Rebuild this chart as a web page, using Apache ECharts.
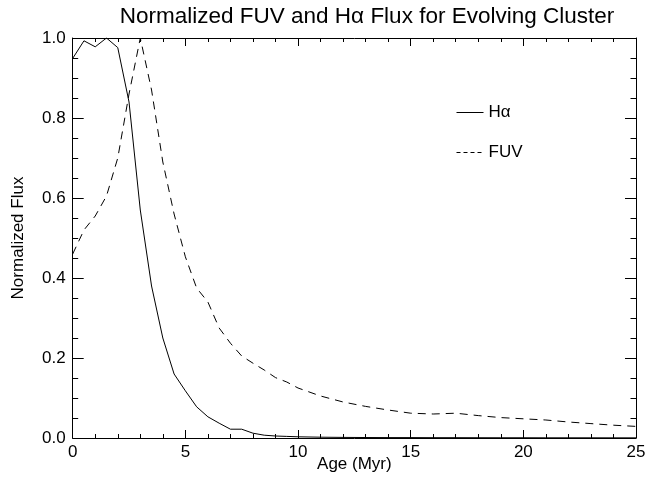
<!DOCTYPE html>
<html>
<head>
<meta charset="utf-8">
<script src="https://cdn.jsdelivr.net/npm/echarts@6/dist/echarts.min.js"></script>
<style>
  html, body { margin: 0; padding: 0; background: #fff; }
  #chart { width: 649px; height: 493px; }
</style>
</head>
<body>
<div id="chart"></div>
<script>
// ages in Myr (shared by both curves)
const ages = [0, 0.5, 1, 1.5, 2, 2.5, 3, 3.5, 4, 4.5, 5, 5.5, 6, 6.5, 7, 7.5, 8, 8.5, 9, 9.5, 10,
  11, 12, 13, 14, 15, 16, 17, 18, 19, 20, 21, 22, 23, 24, 25]

const haFlux = [0.949, 0.993, 0.978, 1.0, 0.976, 0.84, 0.57, 0.38, 0.25, 0.16, 0.118, 0.078, 0.053, 0.037, 0.022, 0.022, 0.012, 0.007, 0.005, 0.004, 0.003,
  0.002, 0.0015, 0.0012, 0.001, 0.001, 0.0008, 0.0008, 0.0007, 0.0006, 0.0006, 0.0005, 0.0005, 0.0005, 0.0004, 0.0004]

const fuvFlux = [0.46, 0.52, 0.555, 0.605, 0.70, 0.86, 1.0, 0.87, 0.69, 0.56, 0.453, 0.375, 0.34, 0.275, 0.237, 0.205, 0.187, 0.17, 0.151, 0.14, 0.125,
  0.105, 0.09, 0.079, 0.07, 0.062, 0.06, 0.062, 0.056, 0.051, 0.048, 0.045, 0.04, 0.036, 0.032, 0.029]

const font = "'Liberation Sans', Arial, Helvetica, sans-serif"

const chart = echarts.init(document.getElementById('chart'))

const baseX = {
  type: 'value',
  min: 0,
  max: 25,
  interval: 5,
  axisLine: { show: true, onZero: false, lineStyle: { color: '#000', width: 1 } },
  axisTick: { show: true, inside: true, length: 8, lineStyle: { color: '#000' } },
  minorTick: { show: true, splitNumber: 5, length: 4, lineStyle: { color: '#000' } },
  splitLine: { show: false },
}

const baseY = {
  type: 'value',
  min: 0,
  max: 1.0,
  interval: 0.2,
  axisLine: { show: true, onZero: false, lineStyle: { color: '#000', width: 1 } },
  axisTick: { show: true, inside: true, length: 11, lineStyle: { color: '#000' } },
  minorTick: { show: true, splitNumber: 4, length: 5.5, lineStyle: { color: '#000' } },
  splitLine: { show: false },
}

chart.setOption({
  backgroundColor: '#fff',
  animation: false,
  title: {
    text: 'Normalized FUV and H\u03b1 Flux for Evolving Cluster',
    left: 362,
    textAlign: 'center',
    top: 0,
    textStyle: { fontFamily: font, fontSize: 22.5, fontWeight: 'normal', color: '#000' },
  },
  legend: {
    orient: 'vertical',
    left: 456,
    top: 104,
    padding: 0,
    itemWidth: 27,
    itemHeight: 18,
    itemGap: 23,
    itemStyle: { color: 'rgba(0,0,0,0)', borderWidth: 0 },
    lineStyle: { width: 1 },
    textStyle: { fontFamily: font, fontSize: 17, color: '#000' },
    data: [
      { name: 'H\u03b1' },
      { name: 'FUV', lineStyle: { type: [4, 3], width: 1 } },
    ],
  },
  grid: { left: 72.7, right: 13, top: 38, bottom: 55 },
  xAxis: [
    {
      ...baseX,
      position: 'bottom',
      name: 'Age (Myr)',
      nameLocation: 'middle',
      nameGap: 18,
      nameMoveOverlap: false,
      nameTextStyle: { fontFamily: font, fontSize: 17, color: '#000' },
      axisLabel: { fontFamily: font, fontSize: 17, color: '#000', margin: 6 },
    },
    { ...baseX, position: 'top', axisLabel: { show: false } },
  ],
  yAxis: [
    {
      ...baseY,
      position: 'left',
      name: 'Normalized Flux',
      nameLocation: 'middle',
      nameGap: 46,
      nameTextStyle: { fontFamily: font, fontSize: 17, color: '#000' },
      axisLabel: { fontFamily: font, fontSize: 17, color: '#000', margin: 7, formatter: (v) => v.toFixed(1) },
    },
    { ...baseY, position: 'right', axisLabel: { show: false } },
  ],
  series: [
    {
      name: 'H\u03b1',
      type: 'line',
      symbol: 'none',
      lineStyle: { color: '#000', width: 1 },
      itemStyle: { color: '#000' },
      data: ages.map((a, i) => [a, haFlux[i]]),
    },
    {
      name: 'FUV',
      type: 'line',
      symbol: 'none',
      lineStyle: { color: '#000', width: 1, type: [8, 6] },
      itemStyle: { color: '#000' },
      data: ages.map((a, i) => [a, fuvFlux[i]]),
    },
  ],
})
</script>
</body>
</html>
